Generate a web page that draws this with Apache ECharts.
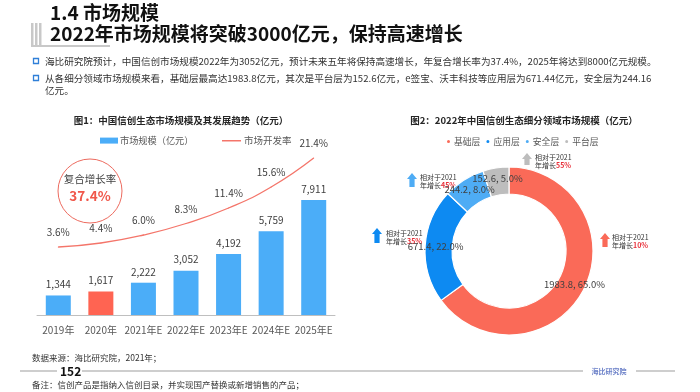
<!DOCTYPE html>
<html><head><meta charset="utf-8">
<script src="https://cdn.jsdelivr.net/npm/echarts@6/dist/echarts.min.js"></script>
<style>html,body{margin:0;padding:0;background:#fff}#c{width:700px;height:392px}</style>
</head><body><div id="c"></div>
<script>
// ---- data ----
const years = ['2019年', '2020年', '2021年E', '2022年E', '2023年E', '2024年E', '2025年E'];
const marketSize = [1344, 1617, 2222, 3052, 4192, 5759, 7911];
const devRate = [3.6, 4.4, 6.0, 8.3, 11.4, 15.6, 21.4];
const segNames = ['基础层', '应用层', '安全层', '平台层'];
const segValues = [1983.8, 671.4, 244.2, 152.6];
const segGrowth = ['10%', '35%', '45%', '55%'];
const cagr = '37.4%';

const FF = 'Noto Sans CJK SC';
const segColors = ['#fa6a58', '#0d8af2', '#4eacf5', '#bdbdbd'];
const total = segValues.reduce((a, b) => a + b, 0);

const chart = echarts.init(document.getElementById('c'));

function txt(x, y, text, size, opts) {
  opts = opts || {};
  return {
    type: 'text', x: x, y: y, silent: true, z: 20,
    style: Object.assign({
      text: text, fontFamily: FF, fontSize: size, fill: opts.fill || '#262626',
      fontWeight: opts.bold ? 'bold' : 'normal',
      textAlign: opts.align || 'left', textVerticalAlign: 'middle'
    }, opts.style || {})
  };
}
function arrow(cx, y0, h, color) {
  const w = 10, hh = 6, sw = 2.6;
  return {
    type: 'polygon', silent: true,
    shape: { points: [[cx, y0], [cx + w / 2, y0 + hh], [cx + sw, y0 + hh], [cx + sw, y0 + h], [cx - sw, y0 + h], [cx - sw, y0 + hh], [cx - w / 2, y0 + hh]] },
    style: { fill: color }
  };
}
function note(x, y, pct) {
  return {
    type: 'text', x: x, y: y, silent: true,
    style: {
      text: '{a|相对于2021}\n{a|年增长}{b|' + pct + '}',
      rich: {
        a: { fontFamily: FF, fontSize: 7, fill: '#333', lineHeight: 8.5 },
        b: { fontFamily: FF, fontSize: 7, fill: '#e8303a', fontWeight: 'bold', lineHeight: 8.5 }
      }
    }
  };
}
function hl(x1, x2, y, color, w) {
  return { type: 'line', z: 10, silent: true,
    shape: { x1: x1, y1: y, x2: x2, y2: y }, style: { stroke: color, lineWidth: w } };
}

const graphics = [
  // title decoration
  { type: 'rect', shape: { x: 31, y: 23, width: 2.5, height: 24 }, style: { fill: '#c8c8c8' } },
  { type: 'rect', shape: { x: 35, y: 23, width: 2.5, height: 24 }, style: { fill: '#c8c8c8' } },
  { type: 'rect', shape: { x: 39, y: 23, width: 2.5, height: 24 }, style: { fill: '#c8c8c8' } },
  hl(31, 110, 46, '#c8c8c8', 2),
  txt(50, 13, '1.4 市场规模', 19, { bold: true, fill: '#111' }),
  txt(50, 34, '2022年市场规模将突破3000亿元，保持高速增长', 19, { bold: true, fill: '#111' }),
  // bullets
  { type: 'rect', shape: { x: 33.5, y: 58.5, width: 5, height: 5 }, style: { fill: '#fff', stroke: '#2f7fd8', lineWidth: 1.3 } },
  { type: 'rect', shape: { x: 33.5, y: 75.5, width: 5, height: 5 }, style: { fill: '#fff', stroke: '#2f7fd8', lineWidth: 1.3 } },
  txt(45, 61, '海比研究院预计，中国信创市场规模2022年为3052亿元，预计未来五年将保持高速增长，年复合增长率为37.4%，2025年将达到8000亿元规模。', 9.6, { fill: '#333' }),
  txt(45, 78, '从各细分领域市场规模来看，基础层最高达1983.8亿元，其次是平台层为152.6亿元，e签宝、沃丰科技等应用层为671.44亿元，安全层为244.16', 9.6, { fill: '#333' }),
  txt(45, 90, '亿元。', 9.6, { fill: '#333' }),
  // chart titles
  txt(181, 120, '图1：中国信创生态市场规模及其发展趋势（亿元）', 9.5, { bold: true, align: 'center' }),
  txt(524, 120, '图2：2022年中国信创生态细分领域市场规模（亿元）', 9.5, { bold: true, align: 'center' }),
  // CAGR circle
  { type: 'circle', silent: true, shape: { cx: 90, cy: 191, r: 32 }, style: { fill: 'none', stroke: '#ec6a5e', lineWidth: 1 } },
  txt(90, 179, '复合增长率', 10.5, { align: 'center', fill: '#404040' }),
  txt(90, 196, cagr, 13.5, { align: 'center', bold: true, fill: '#f0574a' }),
  // donut notes
  arrow(527, 153, 12, segColors[3]), note(535, 153, segGrowth[3]),
  arrow(412, 173, 14, segColors[2]), note(420, 173, segGrowth[2]),
  arrow(377, 228, 15, segColors[1]), note(386, 229, segGrowth[1]),
  arrow(605, 233, 14, segColors[0]), note(612, 233, segGrowth[0]),
  // footer
  txt(32, 358, '数据来源：海比研究院，2021年；', 8.5, { fill: '#333' }),
  hl(20, 57, 371, '#9e9e9e', 1.2),
  txt(60, 371, '152', 12, { bold: true, fill: '#111' }),
  hl(82, 583, 371, '#9e9e9e', 1.2),
  txt(609, 371, '海比研究院', 7, { align: 'center', bold: true, fill: '#6d82c9' }),
  hl(636, 675, 371, '#9e9e9e', 1.2),
  txt(32, 385, '备注：信创产品是指纳入信创目录，并实现国产替换或新增销售的产品；', 8.5, { fill: '#333' })
];

const option = {
  animation: false,
  textStyle: { fontFamily: FF },
  grid: { left: 37, right: 365, top: 140, bottom: 77 },
  legend: [
    { data: ['市场规模（亿元）'], left: 100, top: 136, padding: 0, icon: 'rect', itemWidth: 18, itemHeight: 6, itemGap: 3,
      textStyle: { fontSize: 9.2, color: '#595959', fontFamily: FF, padding: [0, 0, 0, -3] }, selectedMode: false },
    { data: ['市场开发率'], left: 222, top: 136, padding: 0, icon: 'rect', itemWidth: 19, itemHeight: 1.5, itemGap: 3,
      textStyle: { fontSize: 9.5, color: '#595959', fontFamily: FF, padding: [0, 0, 0, -2] }, selectedMode: false },
    { data: segNames, left: 445, top: 137, padding: 0, icon: 'circle', itemWidth: 5, itemHeight: 5, itemGap: 4,
      textStyle: { fontSize: 8.8, color: '#595959', fontFamily: FF, padding: [0, 0, 0, -2] }, selectedMode: false }
  ],
  xAxis: {
    type: 'category', data: years,
    axisLine: { lineStyle: { color: '#bfbfbf', width: 1 } },
    axisTick: { show: false },
    axisLabel: { interval: 0, fontSize: 10, color: '#595959', margin: 10, fontFamily: FF }
  },
  yAxis: [
    { type: 'value', min: 0, max: 12040, show: false },
    { type: 'value', min: -10, max: 25, show: false }
  ],
  series: [
    {
      name: '市场规模（亿元）', type: 'bar', barWidth: 25, yAxisIndex: 0,
      itemStyle: { color: '#4badf8' },
      data: marketSize.map((v, i) => i === 1 ? { value: v, itemStyle: { color: '#ff6452' } } : v),
      label: { show: true, position: 'top', distance: 6, fontSize: 10, color: '#404040', fontFamily: FF,
        formatter: p => p.value.toLocaleString('en-US') }
    },
    {
      name: '市场开发率', type: 'line', yAxisIndex: 1, smooth: true, clip: false,
      symbol: 'circle', symbolSize: 1,
      lineStyle: { color: '#f4756a', width: 1.3 }, itemStyle: { color: '#f4756a' },
      data: devRate,
      label: { show: true, position: 'top', distance: 9, fontSize: 10, color: '#404040', fontFamily: FF,
        formatter: p => p.value.toFixed(1) + '%' }
    },
    {
      name: '细分领域', type: 'pie', center: [509, 251], radius: [57, 84], startAngle: 90, clockwise: true,
      percentPrecision: 4,
      itemStyle: { borderColor: '#fff', borderWidth: 1.2 },
      label: { show: true, position: 'inside', fontSize: 9.5, color: '#404040', fontFamily: FF,
        formatter: p => p.value.toFixed(1) + ', ' + (p.value / total * 100).toFixed(1) + '%' },
      labelLine: { show: false },
      emphasis: { disabled: true },
      data: segNames.map((n, i) => ({ name: n, value: segValues[i], itemStyle: { color: segColors[i] } }))
    }
  ],
  graphic: graphics
};
chart.setOption(option);
</script></body></html>
